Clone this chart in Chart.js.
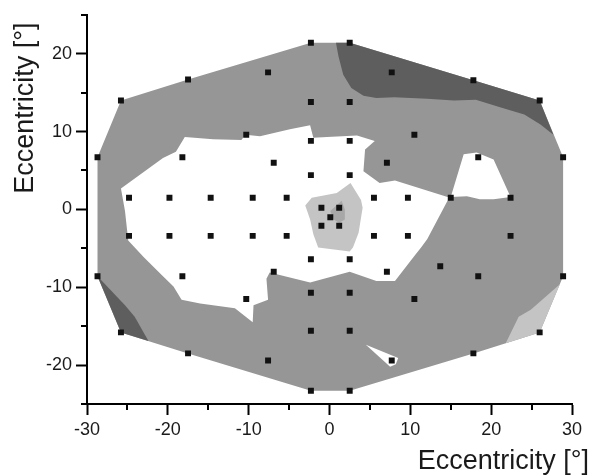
<!DOCTYPE html>
<html><head><meta charset="utf-8">
<script src="https://cdn.jsdelivr.net/npm/chart.js@4"></script>
<style>html,body{margin:0;padding:0;background:#fff}</style>
</head><body>
<canvas id="c" width="594" height="476" style="width:594px;height:476px;display:block"></canvas>
<script>
// ---- tick labels / titles ----
const xTicks = [-30, -20, -10, 0, 10, 20, 30];
const yTicks = [-20, -10, 0, 10, 20];
const xMinor = [-25, -15, -5, 5, 15, 25];
const yMinor = [-25, -15, -5, 5, 15, 25];
const xTitle = 'Eccentricity [°]';
const yTitle = 'Eccentricity [°]';

// ---- test locations (black squares) ----
const testX = [-2.3,2.5, -7.6,7.7, -17.5,17.8, -25.8,26.0, -2.3,2.5, -10.3,10.5, -2.3,2.5,
  -28.7,-18.2,18.4,28.9, -6.9,7.1, -2.3,2.5,
  -24.8,-19.8,-14.7,-9.5,-5.3,5.5,9.7,15.0,22.4,
  -1.0,1.2, 0.1, -1.0,1.2,
  -24.8,-19.8,-14.7,-9.5,-5.3,5.5,9.7,22.4,
  -2.3,2.5, 13.7, -6.9,7.1, -28.7,-18.2,18.4,28.9, -2.3,2.5, -10.3,10.5,
  -2.3,2.5, -25.8,26.0, -17.5,17.8, -7.6,7.7, -2.3,2.5];
const testY = [21.4,21.4, 17.6,17.6, 16.7,16.6, 14.0,14.0, 13.8,13.8, 9.6,9.6, 8.8,8.8,
  6.7,6.7,6.7,6.7, 6.0,6.0, 4.4,4.4,
  1.5,1.5,1.5,1.5,1.5,1.5,1.5,1.5,1.5,
  0.2,0.2, -1.0, -2.1,-2.1,
  -3.4,-3.4,-3.4,-3.4,-3.4,-3.4,-3.4,-3.4,
  -6.4,-6.4, -7.3, -8.0,-8.0, -8.6,-8.6,-8.6,-8.6, -10.7,-10.7, -11.5,-11.5,
  -15.6,-15.6, -15.8,-15.8, -18.5,-18.5, -19.4,-19.4, -23.3,-23.3];

// ---- contour regions (x, y pairs in degrees) ----
const hullRegion = [[-25.8,14.0],[-17.5,16.7],[-2.3,21.4],[2.5,21.4],[17.8,16.6],[26.0,14.0],[28.9,6.7],[28.9,-8.6],
  [26.0,-15.8],[17.8,-18.5],[2.5,-23.3],[-2.3,-23.3],[-17.5,-18.5],[-25.8,-15.8],[-28.7,-8.6],[-28.7,6.7]];
const whiteMain = [[-25.8,2.7],[-25.3,-0.2],[-24.9,-4.0],[-23.0,-6.1],[-20.6,-8.6],[-19.3,-9.9],[-18.3,-11.6],
  [-16.0,-12.1],[-11.7,-12.7],[-9.5,-14.5],[-9.4,-12.3],[-7.6,-11.6],[-7.8,-8.9],[-7.4,-8.1],[-2.4,-9.4],
  [2.5,-8.0],[5.8,-9.2],[8.1,-9.2],[10.4,-6.1],[11.4,-4.8],[12.1,-3.8],[14.6,1.1],[14.9,1.5],[8.1,3.7],
  [6.2,3.4],[4.2,4.9],[4.4,7.7],[5.6,8.8],[3.4,9.5],[-0.3,9.3],[-2.0,9.2],[-2.4,10.8],[-4.9,10.3],
  [-8.6,9.4],[-10.4,9.6],[-10.9,8.9],[-14.4,9.0],[-17.9,9.3],[-19.0,7.4],[-20.6,6.6]];
const whiteHole = [[15.0,1.6],[16.6,7.1],[18.2,7.3],[20.3,6.4],[22.4,1.6],[20.3,1.3],[18.6,1.3],[17.0,1.7]];
const whiteSliver = [[4.5,-17.4],[8.5,-19.1],[8.2,-19.9],[7.5,-20.2]];
const darkTopRight = [[0.8,21.4],[2.5,21.4],[17.8,16.6],[26.0,14.0],[27.7,9.6],[26.1,10.9],[24.1,12.2],
  [21.2,13.1],[18.1,14.1],[15.4,14.0],[12.1,14.2],[8.0,14.4],[5.8,14.3],[4.2,14.6],[2.7,15.6],[1.7,17.3],[1.1,19.7]];
const darkBottomLeft = [[-28.7,-8.6],[-25.3,-12.3],[-24.1,-13.8],[-22.4,-16.9],[-25.8,-15.8]];
const lightBottomRight = [[28.5,-9.6],[24.9,-12.9],[23.4,-13.8],[21.8,-17.2],[26.0,-15.8]];
const lightCenter = [[-3.0,0.5],[-2.2,1.5],[0.9,2.1],[2.6,3.4],[3.9,1.2],[4.1,0.2],[3.6,-3.0],[2.9,-4.9],
  [2.5,-5.4],[-1.4,-4.9],[-2.0,-3.2],[-2.4,-1.3]];
const innerCenter = [[0.1,-0.2],[1.5,1.1],[1.9,0.0],[1.9,-1.3],[1.2,-1.7],[0.5,-1.3]];

const poly = (pairs, color, order) => ({
  type: 'line',
  data: pairs.concat([pairs[0]]).map(p => ({x: p[0], y: p[1]})),
  backgroundColor: color, borderColor: 'rgba(0,0,0,0)', borderWidth: 0,
  pointRadius: 0, pointHoverRadius: 0, fill: 'shape', tension: 0, order
});

const decor = {
  id: 'decor',
  afterDraw(chart) {
    const {ctx, chartArea: a, scales: {x, y}} = chart;
    ctx.save();
    ctx.strokeStyle = '#000'; ctx.lineWidth = 2;
    ctx.beginPath();
    xMinor.forEach(v => { const p = Math.round(x.getPixelForValue(v)); ctx.moveTo(p, a.bottom); ctx.lineTo(p, a.bottom + 6); });
    yMinor.forEach(v => { const p = Math.round(y.getPixelForValue(v)); ctx.moveTo(a.left, p); ctx.lineTo(a.left - 6, p); });
    ctx.stroke();
    ctx.fillStyle = '#1a1a1a';
    ctx.font = '27px "Liberation Sans", Arial, sans-serif';
    ctx.textBaseline = 'alphabetic';
    ctx.textAlign = 'right';
    ctx.fillText(xTitle, a.right + 17, a.bottom + 65);
    ctx.translate(a.left - 54, a.top + 179);
    ctx.rotate(-Math.PI / 2);
    ctx.textAlign = 'left';
    ctx.fillText(yTitle, 0, 0);
    ctx.restore();
  }
};

const tickFont = {family: '"Liberation Sans", Arial, sans-serif', size: 18};

new Chart(document.getElementById('c'), {
  type: 'line',
  data: {
    datasets: [
      {type: 'line', data: testX.map((v, i) => ({x: v, y: testY[i]})), showLine: false,
       pointStyle: 'rect', pointRadius: 4.2, pointHoverRadius: 4.2, pointBackgroundColor: '#111',
       pointBorderWidth: 0, borderColor: '#111', order: 0},
      poly(innerCenter, '#a8a8a8', 3),
      poly(lightCenter, '#c4c4c4', 4),
      poly(darkTopRight, '#5e5e5e', 5),
      poly(darkBottomLeft, '#5e5e5e', 5),
      poly(lightBottomRight, '#c4c4c4', 5),
      poly(whiteMain, '#ffffff', 6),
      poly(whiteHole, '#ffffff', 6),
      poly(whiteSliver, '#ffffff', 6),
      poly(hullRegion, '#969696', 10)
    ]
  },
  options: {
    responsive: false, animation: false, events: [],
    layout: {padding: {left: 0, right: 22, top: 13, bottom: 0}},
    plugins: {legend: {display: false}, tooltip: {enabled: false}},
    scales: {
      x: {
        type: 'linear', min: -30, max: 30,
        afterBuildTicks: s => { s.ticks = xTicks.map(v => ({value: v})); },
        afterFit: s => { s.height = 72; },
        grid: {drawOnChartArea: false, drawTicks: true, tickLength: 11, tickWidth: 2, tickColor: '#000'},
        border: {display: true, color: '#000', width: 2},
        ticks: {font: tickFont, color: '#1a1a1a', padding: 4, maxRotation: 0, autoSkip: false,
                callback: v => String(v)}
      },
      y: {
        type: 'linear', min: -25, max: 25,
        afterBuildTicks: s => { s.ticks = yTicks.map(v => ({value: v})); },
        afterFit: s => { s.width = 87; },
        grid: {drawOnChartArea: false, drawTicks: true, tickLength: 11, tickWidth: 2, tickColor: '#000'},
        border: {display: true, color: '#000', width: 2},
        ticks: {font: tickFont, color: '#1a1a1a', padding: 4, autoSkip: false,
                callback: v => String(v)}
      }
    }
  },
  plugins: [decor]
});
</script>
</body></html>
